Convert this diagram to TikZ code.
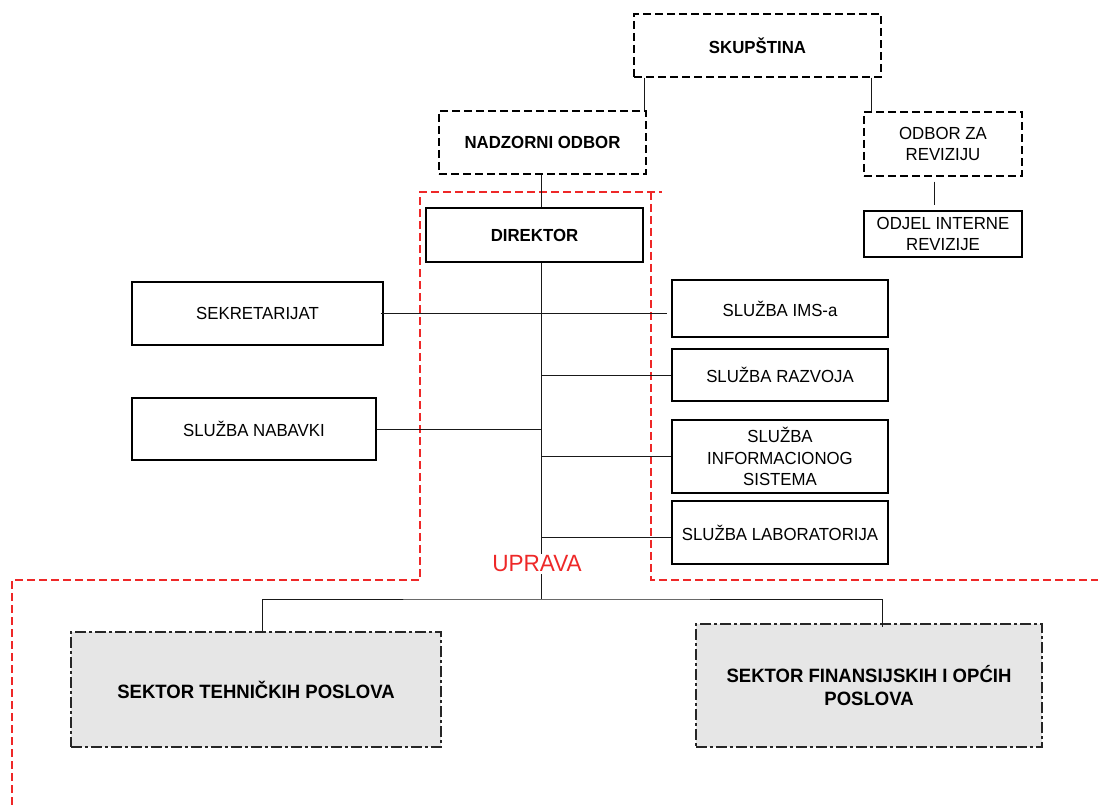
\documentclass[tikz,border=0pt]{standalone}
\usepackage{fontspec}
\setmainfont{Liberation Sans}[FakeStretch=0.96]
\definecolor{uprred}{RGB}{238,40,40}
\definecolor{sekgray}{RGB}{230,230,230}
\begin{document}
\begin{tikzpicture}[x=1pt,y=-1pt,
  base/.style={rectangle, inner sep=2pt, align=center, line width=1.2pt,
    font=\fontsize{17.5}{21.5}\selectfont},
  solidbox/.style={base, draw=black},
  dashbox/.style={base, draw=black, dash pattern=on 8pt off 4pt},
  boldtext/.style={font=\fontsize{17.5}{21.5}\selectfont\bfseries},
  sectorbox/.style={base, draw=black!85, fill=sekgray, dash pattern=on 11pt off 3pt on 3pt off 3pt,
    font=\fontsize{19.3}{23.5}\selectfont\bfseries},
  conn/.style={line width=1pt, draw=black!90},
  region/.style={draw=uprred, line width=1.1pt, dash pattern=on 8pt off 4pt}]
\useasboundingbox (0,0) rectangle (1098,805);

% nodes
\node[dashbox, boldtext, minimum width=247pt, minimum height=63pt] (SKUP) at (757.5,45.5) {SKUPŠTINA};
\node[dashbox, boldtext, minimum width=207pt, minimum height=63pt] (NADZ) at (542.5,142.5) {NADZORNI ODBOR};
\node[dashbox, minimum width=158pt, minimum height=64pt] (ODBOR) at (943,144) {ODBOR ZA\\REVIZIJU};
\node[solidbox, minimum width=158pt, minimum height=46pt] (ODJEL) at (943,234) {ODJEL INTERNE\\REVIZIJE};
\node[solidbox, boldtext, minimum width=217pt, minimum height=54pt] (DIR) at (534.5,235) {DIREKTOR};
\node[solidbox, minimum width=251pt, minimum height=63pt] (SEKR) at (257.5,313.5) {SEKRETARIJAT};
\node[solidbox, minimum width=244pt, minimum height=62pt] (NAB) at (254,429) {SLUŽBA NABAVKI};
\node[solidbox, minimum width=216pt, minimum height=57pt] (IMS) at (780,308.5) {SLUŽBA IMS-a};
\node[solidbox, minimum width=216pt, minimum height=52pt] (RAZ) at (780,375) {SLUŽBA RAZVOJA};
\node[solidbox, minimum width=216pt, minimum height=73pt] (INF) at (780,456.5) {SLUŽBA\\INFORMACIONOG\\SISTEMA};
\node[solidbox, minimum width=216pt, minimum height=63pt] (LAB) at (780,532.5) {SLUŽBA LABORATORIJA};
\node[sectorbox, minimum width=370pt, minimum height=115pt] (STH) at (256,689.5) {SEKTOR TEHNIČKIH POSLOVA};
\node[sectorbox, minimum width=346pt, minimum height=123pt] (SF) at (869,685.5) {SEKTOR FINANSIJSKIH I OPĆIH\\POSLOVA};
\node[text=uprred, font=\fontsize{23.5}{27}\selectfont, inner sep=2pt] (UPR) at (537,564) {UPRAVA};

% helper coordinates
\coordinate (spine) at (541,0);
\coordinate (bus) at (541,599);

% region outline
\draw[region] (12,805) -- (12,580) -- (420,580) -- (420,192) -- (662,192);
\draw[region] (651,192) -- (651,580) -- (1098,580);

% connectors
\draw[conn] ([xshift=-2pt]SKUP.south -| NADZ.north east) -- ([xshift=-2pt]NADZ.north east);
\draw[conn] ([xshift=8pt]ODBOR.north west |- SKUP.south) -- ([xshift=8pt]ODBOR.north west);
\draw[conn, shorten <=5pt, shorten >=5pt] ([xshift=-9pt]ODBOR.south) -- ([xshift=-9pt]ODJEL.north);
\draw[conn] (NADZ.south -| spine) -- (DIR.north -| spine);
\draw[conn] (DIR.south -| spine) -- (UPR.north -| spine);
\draw[conn] (UPR.south -| spine) -- (bus);
\draw[conn] ([xshift=6pt]STH.north) |- (bus) -| ([xshift=13pt,yshift=-4pt]SF.north);
\draw[conn] ([xshift=-3pt]SEKR.east) -- ([xshift=-4pt]SEKR.east -| IMS.west);
\draw[conn] (RAZ.west -| spine) -- (RAZ.west);
\draw[conn] (NAB.east) -- (NAB.east -| spine);
\draw[conn] (INF.west -| spine) -- (INF.west);
\draw[conn] ([yshift=-5pt]LAB.west -| spine) -- ([yshift=-5pt]LAB.west);
\end{tikzpicture}
\end{document}
